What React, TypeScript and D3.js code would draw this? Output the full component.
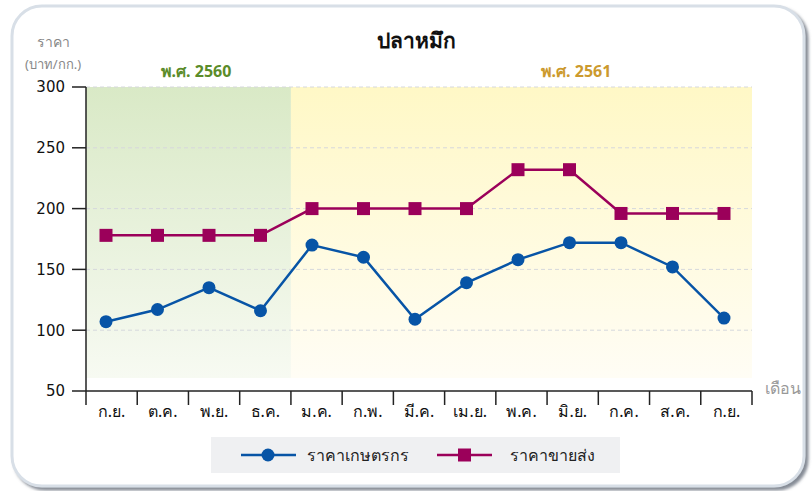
import React from 'react';
import * as d3 from 'd3';

const months = ['ก.ย.', 'ต.ค.', 'พ.ย.', 'ธ.ค.', 'ม.ค.', 'ก.พ.', 'มี.ค.', 'เม.ย.', 'พ.ค.', 'มิ.ย.', 'ก.ค.', 'ส.ค.', 'ก.ย.'];
const farmerPrice = [107, 117, 135, 116, 170, 160, 109, 139, 158, 172, 172, 152, 110];
const wholesalePrice = [178, 178, 178, 178, 200, 200, 200, 200, 232, 232, 196, 196, 196];
const yTicks = [50, 100, 150, 200, 250, 300];
const seriesNames = ['ราคาเกษตรกร', 'ราคาขายส่ง'];
const yearLabels = ['พ.ศ. 2560', 'พ.ศ. 2561'];
const monthsIn2560 = 4;

const W = 812;
const H = 491;
const font = "'Noto Sans', 'DejaVu Sans', sans-serif";

function App() {
  const keys = months.map((m, i) => i);

  // band scale for the axis ticks, point scale for the marks
  const xBand = d3.scaleBand<number>().domain(keys).range([86, 752]);
  const xPoint = d3.scalePoint<number>().domain(keys).range([106, 724]);
  const y = d3.scaleLinear().domain([50, 300]).range([391, 87]);

  const line = d3.line<number>()
    .x((d, i) => xPoint(i) as number)
    .y((d) => y(d));

  const splitX = xBand(monthsIn2560) as number;
  const shadeBottom = y(50) - 13;

  return (
    <svg width={W} height={H} style={{ position: 'absolute', left: 0, top: 0 }} fontFamily={font}>
      <defs>
        <linearGradient id="greenGrad" x1="0" y1="0" x2="0" y2="1">
          <stop offset="0%" stopColor="#d9e9c6" />
          <stop offset="100%" stopColor="#f7faf2" />
        </linearGradient>
        <linearGradient id="yellowGrad" x1="0" y1="0" x2="0" y2="1">
          <stop offset="0%" stopColor="#fff8c6" />
          <stop offset="100%" stopColor="#fffdf5" />
        </linearGradient>
        <filter id="cardShadow" x="-5%" y="-5%" width="110%" height="110%">
          <feDropShadow dx="3" dy="3" stdDeviation="1.5" floodColor="#6f7782" floodOpacity="0.85" />
        </filter>
      </defs>

      {/* card */}
      <rect x={12} y={6} width={792} height={480} rx={30} fill="#fff" stroke="#d8dfe7" strokeWidth={3} filter="url(#cardShadow)" />

      {/* shaded year regions */}
      <rect x={xBand(0)} y={y(300)} width={splitX - (xBand(0) as number)} height={shadeBottom - y(300)} fill="url(#greenGrad)" />
      <rect x={splitX} y={y(300)} width={752 - splitX} height={shadeBottom - y(300)} fill="url(#yellowGrad)" />

      {/* gridlines */}
      {yTicks.filter((t) => t > 50).map((t) => (
        <line key={t} x1={86} x2={752} y1={y(t)} y2={y(t)} stroke="#d6d8dc" strokeWidth={1} strokeDasharray="4 3" />
      ))}

      {/* y axis */}
      <line x1={86} x2={86} y1={y(300)} y2={y(50)} stroke="#222" strokeWidth={1.5} />
      {yTicks.map((t) => (
        <g key={t}>
          <line x1={72} x2={86} y1={y(t)} y2={y(t)} stroke="#222" strokeWidth={1.5} />
          <text x={65} y={y(t)} dy="0.36em" textAnchor="end" fontSize={15} fill="#111" fontFamily="'DejaVu Sans', sans-serif">{t}</text>
        </g>
      ))}

      {/* x axis */}
      <line x1={86} x2={752} y1={y(50)} y2={y(50)} stroke="#222" strokeWidth={1.5} />
      {keys.concat([months.length]).map((i) => {
        const tx = i < months.length ? (xBand(i) as number) : 752;
        return <line key={i} x1={tx} x2={tx} y1={y(50)} y2={y(50) + 14} stroke="#222" strokeWidth={1.5} />;
      })}
      {months.map((m, i) => (
        <text key={i} x={(xBand(i) as number) + xBand.bandwidth() / 2} y={417} textAnchor="middle" fontSize={16} fill="#111">{m}</text>
      ))}

      {/* titles */}
      <text x={416} y={48} textAnchor="middle" fontSize={21} fontWeight="bold" fill="#111">ปลาหมึก</text>
      <text x={53} y={47} textAnchor="middle" fontSize={14} fill="#888">ราคา</text>
      <text x={53} y={69} textAnchor="middle" fontSize={13} fill="#888">(บาท/กก.)</text>
      <text x={196} y={77} textAnchor="middle" fontSize={16} fontWeight="bold" fill="#5b8c2a">{yearLabels[0]}</text>
      <text x={576} y={77} textAnchor="middle" fontSize={16} fontWeight="bold" fill="#cc9a2e">{yearLabels[1]}</text>
      <text x={783} y={394} textAnchor="middle" fontSize={16} fill="#999">เดือน</text>

      {/* series */}
      <path d={line(wholesalePrice) as string} fill="none" stroke="#9b005a" strokeWidth={2.5} />
      {wholesalePrice.map((v, i) => (
        <rect key={i} x={(xPoint(i) as number) - 6.5} y={y(v) - 6.5} width={13} height={13} fill="#9b005a" />
      ))}
      <path d={line(farmerPrice) as string} fill="none" stroke="#0754a6" strokeWidth={2.5} />
      {farmerPrice.map((v, i) => (
        <circle key={i} cx={xPoint(i) as number} cy={y(v)} r={6.5} fill="#0754a6" />
      ))}

      {/* legend */}
      <rect x={211} y={437} width={409} height={36} fill="#eff0f2" />
      <line x1={241} x2={296} y1={455} y2={455} stroke="#0754a6" strokeWidth={2.5} />
      <circle cx={268} cy={455} r={6.5} fill="#0754a6" />
      <text x={307} y={455} dy="0.35em" fontSize={16} fill="#222">{seriesNames[0]}</text>
      <line x1={437} x2={492} y1={455} y2={455} stroke="#9b005a" strokeWidth={2.5} />
      <rect x={458} y={448.5} width={13} height={13} fill="#9b005a" />
      <text x={510} y={455} dy="0.35em" fontSize={16} fill="#222">{seriesNames[1]}</text>
    </svg>
  );
}

export default App;
